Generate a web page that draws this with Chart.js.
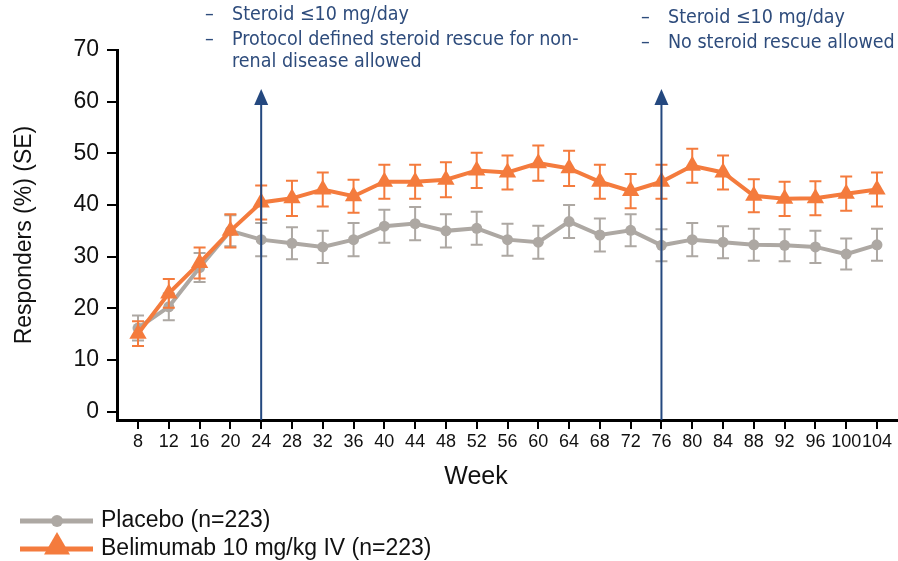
<!DOCTYPE html>
<html>
<head>
<meta charset="utf-8">
<script src="https://cdn.jsdelivr.net/npm/chart.js"></script>
<style>
  body { margin: 0; background: #fff; }
  #wrap { position: relative; width: 898px; height: 561px; }
  .note { position: absolute; font-family: "DejaVu Sans Condensed", "DejaVu Sans", sans-serif; font-size: 19.5px; color: #2E4C7C; line-height: 25px; white-space: nowrap; }
  .note div { position: relative; padding-left: 27px; }
  .note div.d::before { content: "–"; position: absolute; left: 0; }
</style>
</head>
<body>
<div id="wrap">
  <canvas id="chart"></canvas>
  <div class="note" style="left:205px; top:1px;">
    <div class="d">Steroid ≤10 mg/day</div>
    <div class="d">Protocol defined steroid rescue for non-</div>
    <div style="margin-top:-3px;">renal disease allowed</div>
  </div>
  <div class="note" style="left:641px; top:4px;">
    <div class="d">Steroid ≤10 mg/day</div>
    <div class="d">No steroid rescue allowed</div>
  </div>
</div>

<script>
  const weeks = [8, 12, 16, 20, 24, 28, 32, 36, 40, 44, 48, 52, 56, 60, 64, 68, 72, 76, 80, 84, 88, 92, 96, 100, 104];
  const placebo = [16.2, 20.3, 27.9, 35.0, 33.3, 32.6, 31.9, 33.3, 35.9, 36.4, 35.0, 35.5, 33.3, 32.8, 36.8, 34.2, 35.1, 32.2, 33.3, 32.8, 32.3, 32.2, 31.9, 30.5, 32.3];
  const placeboSE = [2.4, 2.6, 2.8, 3.0, 3.2, 3.1, 3.1, 3.2, 3.2, 3.2, 3.2, 3.2, 3.1, 3.2, 3.2, 3.2, 3.1, 3.1, 3.2, 3.1, 3.1, 3.1, 3.1, 3.0, 3.1];
  const belimumab = [15.1, 22.9, 28.8, 35.0, 40.5, 41.3, 43.0, 41.7, 44.5, 44.5, 44.9, 46.7, 46.3, 48.1, 47.1, 44.5, 42.7, 44.5, 47.6, 46.3, 41.8, 41.2, 41.3, 42.2, 43.0];
  const belimumabSE = [2.4, 2.8, 3.0, 3.2, 3.3, 3.4, 3.3, 3.2, 3.3, 3.3, 3.4, 3.4, 3.3, 3.4, 3.4, 3.3, 3.3, 3.3, 3.3, 3.3, 3.2, 3.3, 3.3, 3.3, 3.3];
  const yTicks = [0, 10, 20, 30, 40, 50, 60, 70];
  const arrowWeeks = [24, 76];
  const seriesNames = ['Placebo (n=223)', 'Belimumab 10 mg/kg IV (n=223)'];
  const xTitle = 'Week';

  const GRAY = '#ADA8A3';
  const ORANGE = '#F47B3D';
  const NAVY = '#24487F';
  const FONT = '"Liberation Sans", Arial, sans-serif';

  const errorBars = {
    id: 'errorBars',
    beforeDatasetDraw(chart, args) {
      const ds = chart.data.datasets[args.index];
      const y = chart.scales.y;
      const ctx = chart.ctx;
      ctx.save();
      ctx.strokeStyle = ds.borderColor;
      ctx.lineWidth = 2;
      args.meta.data.forEach((pt, i) => {
        const v = ds.data[i].y, e = ds.se[i];
        const top = y.getPixelForValue(v + e), bot = y.getPixelForValue(v - e);
        ctx.beginPath();
        ctx.moveTo(pt.x, top); ctx.lineTo(pt.x, bot);
        ctx.moveTo(pt.x - 6, top); ctx.lineTo(pt.x + 6, top);
        ctx.moveTo(pt.x - 6, bot); ctx.lineTo(pt.x + 6, bot);
        ctx.stroke();
      });
      ctx.restore();
    }
  };

  const arrows = {
    id: 'arrows',
    afterDatasetsDraw(chart) {
      const ctx = chart.ctx, x = chart.scales.x, area = chart.chartArea;
      ctx.save();
      ctx.strokeStyle = NAVY; ctx.fillStyle = NAVY; ctx.lineWidth = 2;
      arrowWeeks.forEach(w => {
        const px = x.getPixelForValue(w);
        ctx.beginPath();
        ctx.moveTo(px, area.bottom); ctx.lineTo(px, 103);
        ctx.stroke();
        ctx.beginPath();
        ctx.moveTo(px, 89); ctx.lineTo(px - 7, 105); ctx.lineTo(px + 7, 105);
        ctx.closePath(); ctx.fill();
      });
      ctx.restore();
    }
  };

  // x title (off-centre in the original) and line+marker legend
  const extras = {
    id: 'extras',
    afterDraw(chart) {
      const ctx = chart.ctx;
      ctx.save();
      ctx.fillStyle = '#111';
      ctx.font = '25px ' + FONT;
      ctx.textAlign = 'center'; ctx.textBaseline = 'middle';
      ctx.fillText(xTitle, 476, 477);

      const rows = [
        { ds: chart.data.datasets[1], y: 521, r: 6 },
        { ds: chart.data.datasets[0], y: 549, r: 15 }
      ];
      ctx.textAlign = 'left';
      rows.forEach(row => {
        ctx.strokeStyle = row.ds.borderColor; ctx.lineWidth = 5;
        ctx.beginPath(); ctx.moveTo(20, row.y); ctx.lineTo(93, row.y); ctx.stroke();
        ctx.fillStyle = row.ds.backgroundColor;
        const my = row.ds.pointStyle === 'triangle' ? row.y - 2 : row.y;
        Chart.helpers.drawPoint(ctx, { pointStyle: row.ds.pointStyle, radius: row.r, rotation: 0, borderWidth: 0 }, 57, my);
        ctx.fillStyle = '#111';
        ctx.font = '23px ' + FONT;
        ctx.fillText(row.ds.label, 101, row.y);
      });
      ctx.restore();
    }
  };

  new Chart(document.getElementById('chart'), {
    type: 'line',
    data: {
      datasets: [
        {
          label: seriesNames[1],
          data: weeks.map((w, i) => ({ x: w, y: belimumab[i] })),
          se: belimumabSE,
          borderColor: ORANGE, backgroundColor: ORANGE,
          borderWidth: 4, pointStyle: 'triangle', pointRadius: 10, pointBorderWidth: 0,
          order: 0
        },
        {
          label: seriesNames[0],
          data: weeks.map((w, i) => ({ x: w, y: placebo[i] })),
          se: placeboSE,
          borderColor: GRAY, backgroundColor: GRAY,
          borderWidth: 4, pointStyle: 'circle', pointRadius: 5.5, pointBorderWidth: 0,
          order: 1
        }
      ]
    },
    options: {
      responsive: true, maintainAspectRatio: false, animation: false,
      layout: { autoPadding: false, padding: { top: 50, right: 1, bottom: 71, left: 0 } },
      plugins: { legend: { display: false }, tooltip: { enabled: false } },
      scales: {
        x: {
          type: 'linear', min: 5.27, max: 106.6,
          afterBuildTicks: axis => { axis.ticks = weeks.map(v => ({ value: v })); },
          afterFit: axis => { axis.height = 70; axis.paddingLeft = 0; axis.paddingRight = 0; },
          grid: { drawOnChartArea: false, color: '#000', lineWidth: 2, tickLength: 9 },
          border: { color: '#000', width: 3 },
          ticks: { autoSkip: false, maxRotation: 0, padding: 2, color: '#111', font: { family: FONT, size: 18 } }
        },
        y: {
          min: -1.6, max: 70,
          afterBuildTicks: axis => { axis.ticks = yTicks.map(v => ({ value: v })); },
          afterFit: axis => { axis.width = 117; axis.paddingTop = 0; axis.paddingBottom = 0; },
          grid: { drawOnChartArea: false, color: '#000', lineWidth: 2, tickLength: 10 },
          border: { color: '#000', width: 3 },
          ticks: { padding: 8, color: '#111', font: { family: FONT, size: 23 } },
          title: { display: true, text: 'Responders (%) (SE)', color: '#111', font: { family: FONT, size: 23 }, padding: { top: 11, bottom: 0 } }
        }
      }
    },
    plugins: [errorBars, arrows, extras]
  });
</script>
</body>
</html>
